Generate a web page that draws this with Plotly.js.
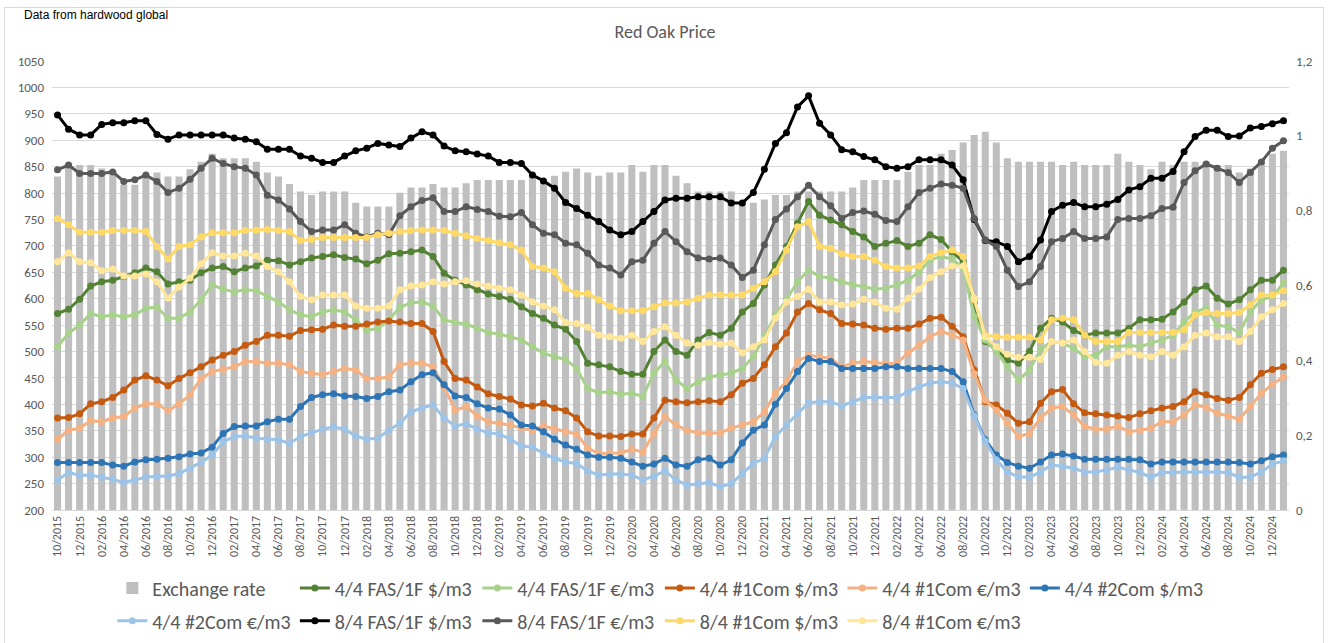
<!DOCTYPE html>
<html>
<head>
<meta charset="utf-8">
<script src="https://cdn.plot.ly/plotly-3.0.1.min.js"></script>
<style>
  body { margin: 0; background: #fff; }
  #chart { width: 1330px; height: 643px; }
  #frame { position: absolute; left: 4px; top: 7px; width: 1318px; height: 640px; border: 1px solid #d9d9d9; pointer-events: none; }
</style>
</head>
<body>
<div id="chart"></div>
<div id="frame"></div>
<script>
// Monthly categories, 10/2015 .. 01/2025
const months = [];
for (let i = 0; i < 112; i++) {
  const m = (9 + i) % 12 + 1;
  const y = 2015 + Math.floor((9 + i) / 12);
  months.push(String(m).padStart(2, '0') + '/' + y);
}

// EUR per USD (right axis, bars)
const exchangeRate = [
  0.891, 0.927, 0.922, 0.922, 0.913, 0.909, 0.869, 0.869, 0.898, 0.902,
  0.891, 0.891, 0.911, 0.931, 0.952, 0.940, 0.940, 0.940, 0.931, 0.902,
  0.891, 0.871, 0.851, 0.842, 0.851, 0.851, 0.851, 0.821, 0.811, 0.811,
  0.811, 0.848, 0.862, 0.862, 0.871, 0.862, 0.862, 0.873, 0.882, 0.882,
  0.882, 0.882, 0.882, 0.893, 0.878, 0.893, 0.904, 0.913, 0.902, 0.893,
  0.902, 0.902, 0.922, 0.904, 0.922, 0.922, 0.893, 0.873, 0.851, 0.851,
  0.851, 0.851, 0.821, 0.821, 0.830, 0.842, 0.842, 0.851, 0.851, 0.851,
  0.851, 0.851, 0.862, 0.882, 0.882, 0.882, 0.882, 0.904, 0.922, 0.922,
  0.952, 0.962, 0.982, 1.002, 1.011, 0.982, 0.940, 0.931, 0.931, 0.931,
  0.931, 0.922, 0.931, 0.922, 0.922, 0.922, 0.952, 0.931, 0.922, 0.911,
  0.931, 0.922, 0.931, 0.931, 0.931, 0.922, 0.922, 0.902, 0.913, 0.931, 0.952, 0.960
];

const fas44Usd = [
  572, 580, 599, 624, 632, 635, 642, 649, 658, 651,
  628, 632, 635, 649, 658, 661, 651, 658, 662, 673,
  672, 664, 670, 677, 680, 683, 678, 675, 666, 673,
  685, 686, 689, 692, 680, 648, 635, 626, 617, 609,
  604, 599, 585, 572, 563, 550, 542, 519, 478, 475,
  471, 462, 457, 457, 500, 522, 500, 493, 522, 536,
  531, 544, 575, 591, 626, 664, 699, 743, 784, 758,
  749, 740, 727, 717, 699, 705, 710, 699, 705, 721,
  712, 689, 670, 591, 519, 503, 484, 478, 500, 544,
  563, 556, 540, 531, 535, 535, 535, 544, 560, 560,
  561, 575, 594, 617, 624, 601, 590, 598, 617, 635, 635, 654
];

const fas44Eur = [
  509, 535, 550, 572, 566, 569, 566, 569, 582, 584,
  563, 563, 575, 598, 626, 618, 613, 617, 615, 604,
  594, 579, 569, 566, 575, 579, 575, 560, 540, 544,
  560, 584, 592, 594, 586, 560, 555, 552, 544, 536,
  533, 527, 522, 509, 497, 490, 485, 468, 430, 422,
  424, 419, 421, 415, 459, 481, 446, 430, 443, 452,
  456, 459, 468, 490, 528, 569, 598, 632, 654, 642,
  639, 632, 626, 623, 618, 620, 626, 635, 651, 673,
  680, 675, 658, 566, 522, 500, 471, 446, 465, 504,
  519, 516, 506, 490, 493, 509, 509, 512, 509, 516,
  522, 531, 556, 575, 582, 550, 547, 536, 575, 598, 604, 630
];

const com1_44Usd = [
  374, 375, 382, 401, 405, 413, 427, 446, 454, 446,
  435, 449, 460, 471, 484, 493, 500, 512, 519, 531,
  531, 529, 540, 541, 542, 550, 548, 548, 552, 556,
  558, 556, 553, 553, 538, 481, 449, 446, 433, 420,
  415, 410, 399, 397, 402, 393, 388, 374, 348, 340,
  340, 339, 344, 344, 374, 408, 405, 403, 405, 407,
  405, 418, 440, 449, 475, 509, 535, 575, 591, 579,
  572, 553, 552, 550, 544, 542, 544, 544, 552, 563,
  565, 548, 528, 465, 405, 399, 383, 364, 367, 402,
  424, 428, 401, 384, 382, 380, 378, 375, 382, 388,
  393, 396, 405, 424, 418, 411, 408, 413, 437, 459, 466, 471
];

const com1_44Eur = [
  334, 351, 355, 369, 367, 374, 377, 393, 401, 401,
  388, 401, 418, 449, 462, 466, 471, 481, 481, 478,
  478, 475, 462, 459, 456, 462, 468, 465, 449, 449,
  452, 475, 478, 478, 471, 433, 389, 396, 378, 367,
  364, 361, 355, 351, 359, 353, 348, 344, 317, 307,
  308, 308, 315, 310, 345, 377, 361, 351, 346, 346,
  346, 355, 361, 367, 386, 421, 443, 481, 493, 490,
  487, 471, 478, 481, 479, 477, 478, 497, 512, 528,
  538, 531, 522, 458, 408, 389, 364, 339, 345, 374,
  393, 396, 380, 358, 353, 353, 359, 348, 351, 355,
  367, 367, 380, 399, 394, 383, 378, 372, 396, 421, 438, 452
];

const com2_44Usd = [
  290, 290, 290, 290, 290, 285, 283, 291, 295, 296,
  298, 301, 306, 308, 319, 345, 358, 359, 359, 367,
  372, 372, 396, 413, 418, 420, 416, 415, 411, 415,
  424, 427, 443, 456, 460, 437, 416, 413, 401, 393,
  391, 380, 361, 359, 348, 334, 323, 315, 304, 300,
  300, 298, 291, 283, 287, 298, 285, 283, 295, 298,
  285, 295, 327, 351, 361, 400, 430, 462, 487, 481,
  481, 468, 468, 468, 468, 471, 471, 468, 468, 468,
  468, 462, 443, 380, 333, 304, 290, 283, 279, 291,
  304, 306, 302, 296, 296, 296, 296, 296, 295, 287,
  291, 291, 291, 291, 291, 291, 291, 290, 287, 293, 301, 304
];

const com2_44Eur = [
  257, 271, 266, 266, 262, 258, 252, 257, 262, 264,
  264, 269, 279, 290, 304, 329, 339, 340, 336, 334,
  333, 326, 339, 346, 353, 357, 353, 340, 334, 336,
  351, 364, 386, 393, 399, 374, 359, 363, 353, 346,
  344, 334, 321, 319, 307, 298, 291, 288, 274, 266,
  268, 268, 266, 257, 264, 274, 257, 247, 250, 252,
  244, 250, 269, 288, 298, 339, 361, 383, 403, 405,
  405, 397, 405, 413, 413, 413, 413, 424, 433, 440,
  443, 440, 430, 378, 330, 295, 272, 263, 262, 272,
  285, 283, 279, 272, 272, 276, 281, 276, 271, 262,
  271, 271, 272, 272, 272, 272, 271, 262, 262, 272, 287, 293
];

const fas84Usd = [
  948, 921, 910, 910, 930, 933, 933, 937, 937, 911,
  902, 910, 910, 910, 910, 910, 904, 902, 897, 883,
  883, 883, 870, 866, 858, 858, 870, 880, 885, 894,
  891, 888, 904, 916, 910, 889, 880, 878, 874, 870,
  858, 858, 856, 834, 823, 809, 782, 771, 758, 746,
  730, 721, 727, 746, 765, 787, 790, 790, 793, 793,
  793, 781, 781, 801, 845, 894, 914, 963, 984, 932,
  910, 882, 878, 869, 863, 850, 847, 850, 863, 863,
  863, 853, 825, 750, 710, 708, 699, 670, 680, 711,
  765, 777, 782, 774, 774, 779, 788, 806, 812, 828,
  828, 841, 878, 907, 919, 919, 907, 908, 923, 926, 931, 937
];

const fas84Eur = [
  844, 853, 837, 837, 837, 840, 822, 825, 834, 822,
  801, 809, 826, 847, 866, 856, 850, 847, 834, 796,
  787, 770, 746, 727, 730, 730, 740, 724, 717, 724,
  721, 757, 774, 786, 791, 765, 765, 774, 769, 765,
  756, 755, 763, 740, 724, 721, 705, 702, 686, 664,
  658, 645, 670, 673, 705, 727, 708, 689, 677, 675,
  677, 664, 640, 654, 702, 750, 770, 793, 815, 793,
  776, 752, 763, 766, 760, 748, 746, 774, 801, 809,
  817, 815, 809, 752, 711, 699, 654, 623, 632, 661,
  708, 714, 727, 714, 714, 717, 750, 752, 752, 757,
  771, 773, 820, 842, 855, 847, 839, 820, 839, 859, 885, 899
];

const com1_84Usd = [
  752, 740, 726, 726, 726, 729, 729, 729, 727, 699,
  675, 699, 702, 717, 725, 725, 725, 729, 730, 731,
  729, 727, 710, 712, 716, 716, 716, 716, 716, 721,
  724, 727, 729, 730, 730, 729, 724, 719, 714, 710,
  706, 702, 692, 661, 658, 651, 620, 610, 610, 598,
  586, 577, 577, 577, 585, 592, 592, 594, 601, 607,
  607, 607, 607, 620, 632, 651, 692, 736, 746, 699,
  695, 685, 680, 680, 673, 661, 658, 658, 662, 680,
  687, 692, 680, 598, 531, 528, 527, 527, 527, 522,
  560, 563, 560, 531, 519, 519, 519, 536, 536, 536,
  536, 536, 541, 569, 574, 572, 572, 574, 588, 607, 607, 615
];

const com1_84Eur = [
  670, 687, 670, 668, 653, 656, 643, 643, 647, 632,
  601, 622, 639, 666, 687, 681, 681, 686, 681, 661,
  651, 632, 604, 598, 607, 607, 607, 586, 582, 582,
  586, 617, 624, 626, 632, 628, 632, 634, 628, 624,
  620, 617, 607, 594, 586, 579, 555, 553, 546, 531,
  528, 525, 531, 519, 538, 547, 531, 516, 512, 517,
  514, 516, 497, 509, 522, 563, 594, 604, 618, 594,
  594, 588, 590, 599, 594, 582, 580, 601, 618, 640,
  651, 662, 662, 601, 528, 509, 495, 489, 489, 485,
  519, 516, 522, 500, 479, 478, 493, 500, 493, 490,
  500, 493, 509, 531, 535, 528, 528, 519, 538, 566, 579, 591
];

const seriesNames = [
  '4/4 FAS/1F $/m3', '4/4 FAS/1F €/m3', '4/4 #1Com $/m3', '4/4 #1Com €/m3',
  '4/4 #2Com $/m3', '4/4 #2Com €/m3', '8/4 FAS/1F $/m3', '8/4 FAS/1F €/m3',
  '8/4 #1Com $/m3', '8/4 #1Com €/m3'
];
const seriesValues = [
  fas44Usd, fas44Eur, com1_44Usd, com1_44Eur, com2_44Usd, com2_44Eur,
  fas84Usd, fas84Eur, com1_84Usd, com1_84Eur
];
const seriesColors = [
  '#548235', '#a9d18e', '#c55a11', '#f4b183', '#2e75b6', '#9dc3e6',
  '#000000', '#595959', '#ffd966', '#ffe699'
];

const fontFamily = 'Carlito, Calibri, Lato, sans-serif';
const textGray = '#595959';

const traces = [{
  type: 'bar',
  name: 'Exchange rate',
  x: months,
  y: exchangeRate,
  yaxis: 'y',
  marker: { color: '#bfbfbf' },
  legend: 'legend'
}];

seriesNames.forEach((name, k) => {
  traces.push({
    type: 'scatter',
    mode: 'lines+markers',
    name: name,
    x: months,
    y: seriesValues[k],
    yaxis: 'y2',
    line: { color: seriesColors[k], width: 3 },
    marker: { color: seriesColors[k], size: 7 },
    legend: k < 5 ? 'legend' : 'legend2'
  });
});

const tickMonths = months.filter((m, i) => i % 2 === 0);

const legendBase = {
  orientation: 'h',
  xanchor: 'left',
  yanchor: 'top',
  x: 0.0488,
  entrywidth: 137.5,
  entrywidthmode: 'pixels',
  itemwidth: 30,
  bgcolor: 'rgba(0,0,0,0)',
  font: { family: fontFamily, size: 20, color: textGray }
};

const layout = {
  width: 1330,
  height: 643,
  margin: { l: 52, r: 41, t: 61, b: 133, autoexpand: false },
  paper_bgcolor: '#ffffff',
  plot_bgcolor: '#ffffff',
  separators: ', ',
  bargap: 0.36,
  showlegend: true,
  font: { family: fontFamily, color: textGray },
  title: {
    text: 'Red Oak Price',
    xref: 'container', x: 0.5, xanchor: 'center',
    yref: 'container', y: 1 - 32 / 643, yanchor: 'middle',
    font: { family: fontFamily, size: 18, color: textGray }
  },
  xaxis: {
    type: 'category',
    range: [-0.5, 111.5],
    tickvals: tickMonths,
    ticktext: tickMonths,
    tickangle: -90,
    ticks: '',
    showgrid: false,
    showline: true,
    linecolor: '#d9d9d9',
    tickfont: { family: fontFamily, size: 12, color: textGray }
  },
  yaxis: {
    side: 'right',
    range: [0, 1.2],
    dtick: 0.2,
    showgrid: false,
    zeroline: false,
    ticks: '',
    ticklabelstandoff: 6,
    tickfont: { family: fontFamily, size: 13, color: textGray }
  },
  yaxis2: {
    overlaying: 'y',
    side: 'left',
    range: [200, 1050],
    dtick: 50,
    showgrid: true,
    gridcolor: '#d9d9d9',
    zeroline: false,
    ticks: '',
    ticklabelstandoff: 7,
    tickfont: { family: fontFamily, size: 13, color: textGray }
  },
  legend: Object.assign({}, legendBase, { y: -0.1302 }),
  legend2: Object.assign({}, legendBase, { y: -0.2032 }),
  annotations: [{
    text: 'Data from hardwood global',
    xref: 'paper', yref: 'paper',
    x: -0.024, y: 1.1024,
    xanchor: 'left', yanchor: 'middle',
    showarrow: false,
    font: { family: '"Liberation Sans", Arial, sans-serif', size: 12, color: '#000000' }
  }]
};

Plotly.newPlot('chart', traces, layout, { displayModeBar: false, staticPlot: true });
</script>
</body>
</html>
